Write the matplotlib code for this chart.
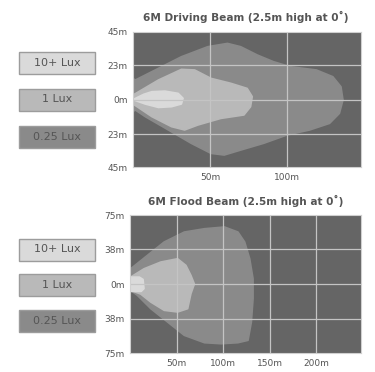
import matplotlib
matplotlib.use("Agg")
import matplotlib.pyplot as plt
from matplotlib.patches import Polygon, Rectangle

# legend labels and fills
lux_labels = ["10+ Lux", "1 Lux", "0.25 Lux"]
lux_colors = ["#dadada", "#b9b9b9", "#8a8a8a"]
bg_color = "#656565"

# driving beam contours (distance m, lateral m)
drive_025_x = [0, 1.5, 31.4, 48.5, 61.3, 69.9, 80.6, 91.2, 101.9, 119, 129.7, 135, 136.3,
               134, 127.6, 114.7, 99.8, 84.8, 69.9, 59.2, 50.6, 37.8, 22.9, 7.9, 1.5, 0]
drive_025_y = [14, 13, 28.5, 35.2, 37.4, 35.2, 29.7, 25.2, 21.9, 19.7, 15.2, 8.5, -0.3,
               -9.2, -15.9, -20.3, -23.7, -29.2, -33.7, -37, -35.9, -29.2, -20.3, -11.4, -7, -8]
drive_1_x = [0, 16.5, 31.4, 40, 50.6, 63.5, 74.1, 77.4, 76.3, 72, 57, 42.1, 33.5, 25, 12.2, 0]
drive_1_y = [3, 13, 20.1, 19.7, 14.1, 10.8, 7.4, 1.9, -4.8, -10.3, -12.6, -17, -20.3, -18.1, -11.4, -3]
drive_10_x = [1, 7, 12.2, 20.7, 29.3, 32.5, 31.4, 25, 16.5, 7.9, 1]
drive_10_y = [0.5, 3.5, 5.2, 5.6, 4.1, 0.8, -3, -4.8, -5.3, -3, -0.5]

# flood beam contours
flood_025_x = [0, 0.7, 18.7, 36.7, 58.3, 79.9, 101.5, 115.9, 123.1, 128.5, 132.1, 132.1,
               130.3, 126.7, 115.9, 97.8, 79.9, 58.3, 40.3, 22.3, 7.9, 0.7, 0]
flood_025_y = [17, 16.6, 31.2, 45.7, 56.5, 60.1, 62, 56.5, 45.7, 27.5, 5.8, -16,
               -41.3, -61.2, -63.8, -64.9, -63.8, -55.8, -41.3, -26.8, -12.3, -6.9, -7]
flood_1_x = [0, 0.7, 15.1, 33, 51.1, 60, 65.4, 69.1, 65.4, 61.9, 51.1, 36.7, 22.3, 11.5, 0.7, 0]
flood_1_y = [8, 7.6, 16.6, 23.9, 27.5, 20.3, 9.4, 0, -10.5, -26.8, -30.4, -28.6, -19.6, -10.9, -7, -7]
flood_10_x = [0, 10, 14, 15, 12, 0]
flood_10_y = [7.5, 7.5, 5, -5, -8, -8]

panels = [
    dict(title="6M Driving Beam (2.5m high at 0˚)", rect=[0.3547, 0.551, 0.608, 0.363],
         xlim=148, ylim=45, xticks=[50, 100], yticks=[45, 23, 0, -23, -45],
         shapes=[(drive_025_x, drive_025_y), (drive_1_x, drive_1_y), (drive_10_x, drive_10_y)],
         boxes=[51.5, 88.5, 125.5], title_y=17),
    dict(title="6M Flood Beam (2.5m high at 0˚)", rect=[0.3467, 0.051, 0.616, 0.371],
         xlim=248, ylim=75, xticks=[50, 100, 150, 200], yticks=[75, 38, 0, -38, -75],
         shapes=[(flood_025_x, flood_025_y), (flood_1_x, flood_1_y), (flood_10_x, flood_10_y)],
         boxes=[238.5, 273.5, 310], title_y=201),
]

W, H = 375, 372
fig = plt.figure(figsize=(W / 100, H / 100), dpi=100)

for p in panels:
    ax = fig.add_axes(p["rect"])
    ax.set_facecolor(bg_color)
    for (xs, ys), col in zip(p["shapes"], lux_colors[::-1]):
        ax.add_patch(Polygon(list(zip(xs, ys)), closed=True, facecolor=col,
                             edgecolor=col, lw=1.2, joinstyle="round", zorder=1))
    ax.set_xlim(0, p["xlim"])
    ax.set_ylim(-p["ylim"], p["ylim"])
    for gx in p["xticks"]:
        ax.axvline(gx, color="#c4c4c4", lw=0.9, zorder=2)
    for gy in p["yticks"][1:-1]:
        ax.axhline(gy, color="#c4c4c4", lw=0.9, zorder=2)
    ax.set_xticks(p["xticks"])
    ax.set_xticklabels([f"{t}m" for t in p["xticks"]])
    ax.set_yticks(p["yticks"])
    ax.set_yticklabels([f"{abs(t)}m" for t in p["yticks"]])
    ax.tick_params(length=0, labelsize=6.5, labelcolor="#555555", pad=4)
    for s in ax.spines.values():
        s.set_color("#d0d0d0")
        s.set_linewidth(0.8)
    fig.text(0.655, 1 - p["title_y"] / H, p["title"],
             ha="center", va="center", fontsize=7.6, fontweight="bold", color="#555555")

    # legend boxes
    for label, col, top in zip(lux_labels, lux_colors, p["boxes"]):
        x0, x1, h = 19, 95, 22
        fig.patches.append(Rectangle((x0 / W, 1 - (top + h) / H), (x1 - x0) / W, h / H,
                                     transform=fig.transFigure, facecolor=col,
                                     edgecolor="#9c9c9c", lw=1.0))
        fig.text((x0 + x1) / 2 / W, 1 - (top + h / 2) / H, label, ha="center", va="center",
                 fontsize=8, color="#555555")

fig.savefig("out.png", dpi=100, facecolor="white")
